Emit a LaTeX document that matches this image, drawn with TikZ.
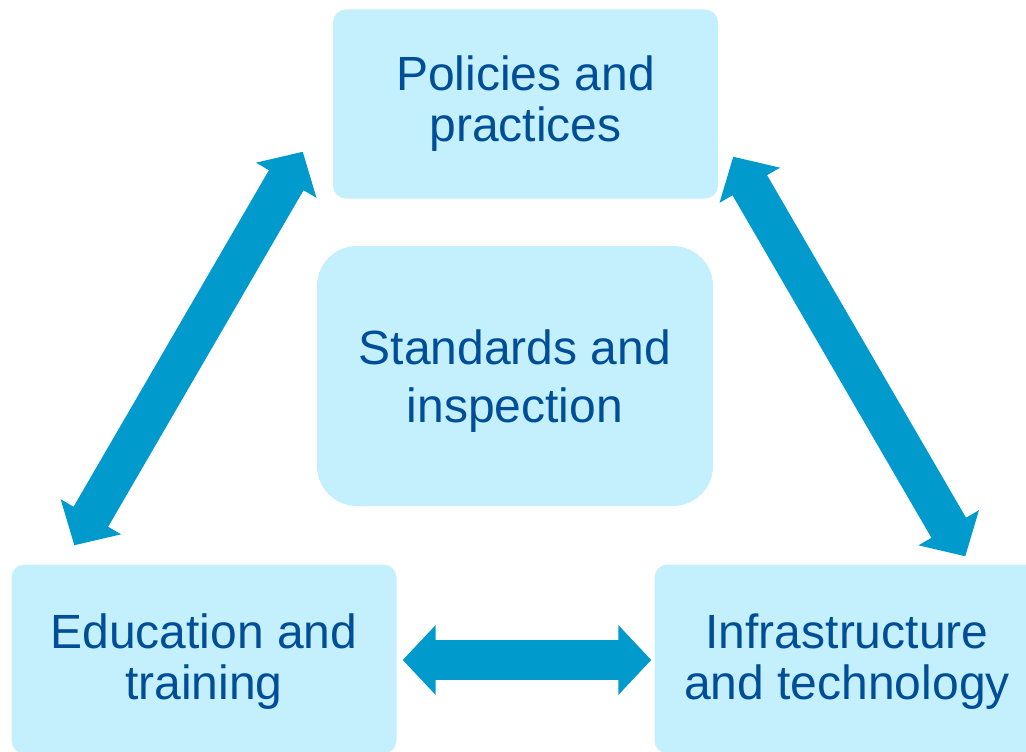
\documentclass[tikz,border=0pt]{standalone}
\usepackage{fontspec}
\setmainfont{Liberation Sans}
\usetikzlibrary{arrows.meta,calc}
\definecolor{boxfill}{RGB}{196,239,253}
\definecolor{arrowblue}{RGB}{0,155,204}
\definecolor{textblue}{RGB}{0,78,152}
\begin{document}
\begin{tikzpicture}[x=1pt,y=-1pt,
  box/.style={fill=boxfill, text=textblue, align=center, inner sep=0pt,
    font=\fontsize{48}{51}\selectfont, rounded corners=13pt,
    minimum width=385pt, minimum height=189pt},
  link/.style={draw=arrowblue, line width=40pt,
    {Triangle[width=68pt,length=33pt]}-{Triangle[width=68pt,length=33pt]}}]
\useasboundingbox (0,0) rectangle (1026,752);
\node[box] (pol) at (525.5,104) {Policies and\\practices};
\node[box, minimum width=396pt, minimum height=260pt, rounded corners=40pt,
  font=\fontsize{48}{58}\selectfont] (std) at (515,376) {\rule{0pt}{45pt}Standards and\\inspection};
\node[box] (edu) at (204,659) {\rule{0pt}{39pt}Education and\\training};
\node[box] (inf) at (847,659) {\rule{0pt}{39pt}Infrastructure\\and technology};
\coordinate (l1) at ($(edu.north west)+(63,-19)$);
\coordinate (l2) at ($(pol.south west)+(-30,-47)$);
\coordinate (r1) at ($(pol.south east)+(15,-42)$);
\coordinate (r2) at ($(inf.north west)+(311,-8)$);
\coordinate (h1) at ($(edu.east)+(6,1)$);
\coordinate (h2) at ($(inf.west)+(-3,1)$);
\draw[link] (l1) -- (l2);
\draw[link] (r1) -- (r2);
\draw[link] (h1) -- (h2);
\end{tikzpicture}
\end{document}
